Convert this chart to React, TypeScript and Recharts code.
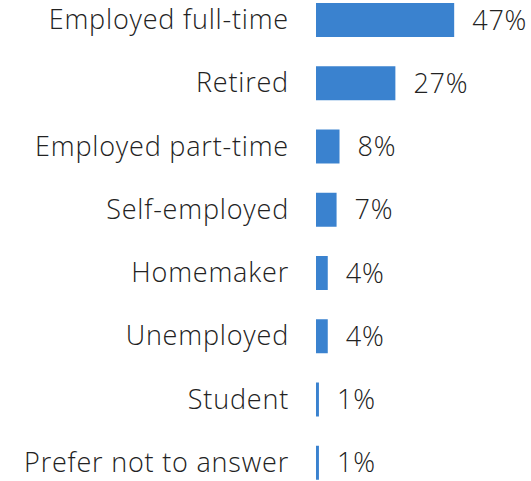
import { Bar, BarChart, LabelList, XAxis, YAxis } from 'recharts';

const categories = [
  'Employed full-time',
  'Retired',
  'Employed part-time',
  'Self-employed',
  'Homemaker',
  'Unemployed',
  'Student',
  'Prefer not to answer',
];
const shares = [47, 27, 8, 7, 4, 4, 1, 1];

const data = categories.map((name, i) => ({ name, value: shares[i] }));

const FONT = '"Open Sans", "Noto Sans", sans-serif';
const textStyle = {
  fontSize: 27,
  fill: '#222',
  fontFamily: FONT,
  fontWeight: 300,
  letterSpacing: 0.8,
};

export default function App() {
  return (
    <div
      style={{
        position: 'absolute',
        top: 0,
        left: 0,
        width: 531,
        height: 481,
        overflow: 'hidden',
        background: '#fff',
      }}
    >
      <div style={{ position: 'absolute', top: -12, left: 0 }}>
        <BarChart
          width={531}
          height={506}
          data={data}
          layout="vertical"
          margin={{ top: 0, right: 68, bottom: 0, left: 0 }}
          barSize={34}
        >
          <XAxis type="number" domain={[0, 50]} hide />
          <YAxis
            type="category"
            dataKey="name"
            width={316}
            axisLine={false}
            tickLine={false}
            tickSize={0}
            tickMargin={27}
            interval={0}
            tick={textStyle}
          />
          <Bar dataKey="value" fill="#3a82cf" isAnimationActive={false}>
            <LabelList
              dataKey="value"
              position="right"
              offset={18}
              formatter={(v: number) => `${v}%`}
              style={textStyle}
            />
          </Bar>
        </BarChart>
      </div>
    </div>
  );
}
